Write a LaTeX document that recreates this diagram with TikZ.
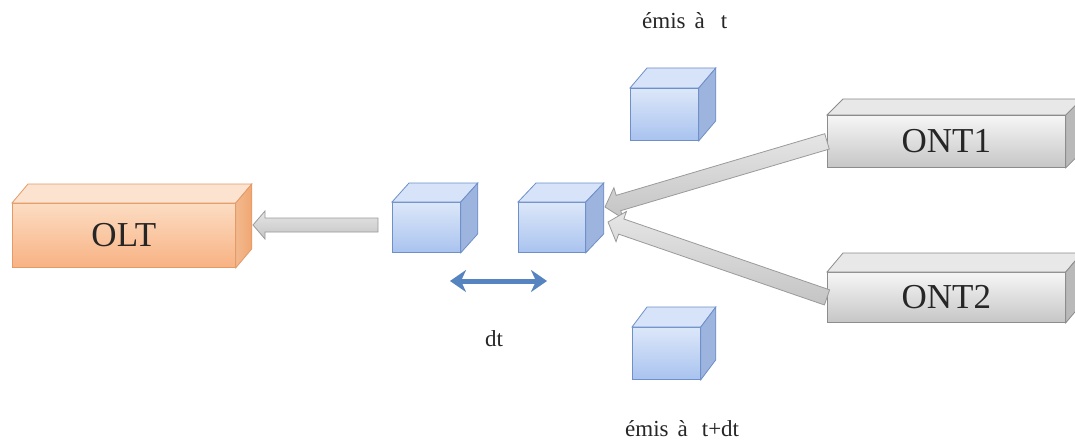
\documentclass[tikz,border=0pt]{standalone}
\usepackage{fontspec}
\setmainfont{Liberation Serif}
\usetikzlibrary{calc,arrows.meta}

\definecolor{oltBorder}{HTML}{E39A66}
\definecolor{oltTopA}{HTML}{FCE3CF}
\definecolor{oltFrontA}{HTML}{FCDCC2}
\definecolor{oltFrontB}{HTML}{F8B283}
\definecolor{oltSide}{HTML}{F0A772}
\definecolor{cubeBorder}{HTML}{6E8FC7}
\definecolor{cubeTop}{HTML}{D6E3F8}
\definecolor{cubeFrontA}{HTML}{DCE7F9}
\definecolor{cubeFrontB}{HTML}{A9C3EF}
\definecolor{cubeSide}{HTML}{9DB4DF}
\definecolor{ontBorder}{HTML}{8C8C8C}
\definecolor{ontTop}{HTML}{E8E8E8}
\definecolor{ontFrontA}{HTML}{F6F6F6}
\definecolor{ontFrontB}{HTML}{C6C6C6}
\definecolor{ontSide}{HTML}{B9B9B9}
\definecolor{flowBorder}{HTML}{9A9A9A}
\definecolor{flowA}{HTML}{E6E6E6}
\definecolor{flowB}{HTML}{C4C4C4}
\definecolor{gapBlue}{HTML}{5584C0}

\tikzset{
  oltfront/.style={draw=oltBorder, line width=0.8pt, top color=oltFrontA, bottom color=oltFrontB,
    font=\fontsize{35}{35}\selectfont, text=black!85, inner sep=0pt},
  olttop/.style={draw=oltBorder, line width=0.8pt, fill=oltTopA},
  oltside/.style={draw=oltBorder, line width=0.8pt, left color=oltSide!80!white, right color=oltSide},
  cubefront/.style={draw=cubeBorder, line width=0.8pt, top color=cubeFrontA, bottom color=cubeFrontB, inner sep=0pt},
  cubetop/.style={draw=cubeBorder, line width=0.8pt, fill=cubeTop},
  cubeside/.style={draw=cubeBorder, line width=0.8pt, fill=cubeSide},
  ontfront/.style={draw=ontBorder, line width=0.8pt, top color=ontFrontA, bottom color=ontFrontB,
    font=\fontsize{35}{35}\selectfont, text=black!85, inner sep=0pt},
  onttop/.style={draw=ontBorder, line width=0.8pt, fill=ontTop},
  ontside/.style={draw=ontBorder, line width=0.8pt, fill=ontSide},
  flow/.style={draw=flowBorder, line width=0.8pt, top color=flowA, bottom color=flowB},
  caption/.style={font=\fontsize{23}{23}\selectfont, text=black!85, anchor=base west, inner sep=0pt},
}

% 3D slab: name, x, y, width, height, depth x, depth y, style prefix, label
\newcommand\slab[9]{%
  \node[#8front, minimum width=#4, minimum height=#5, anchor=north west] (#1) at (#2,#3) {#9};
  \draw[#8top] (#1.north west) -- ++(#6,-#7) -- ($(#1.north east)+(#6,-#7)$) -- (#1.north east) -- cycle;
  \draw[#8side] (#1.north east) -- ++(#6,-#7) -- ($(#1.south east)+(#6,-#7)$) -- (#1.south east) -- cycle;
}

% flat block arrow from #2 (tail) to #3 (tip): shaft half width #4, head half width #5, head length #6
\newcommand\blockarrow[6][]{%
  \draw[flow,#1] (#3)
    -- ($($(#3)!#6!(#2)$)!#5!90:(#2)$)
    -- ($($(#3)!#6!(#2)$)!#4!90:(#2)$)
    -- ($(#2)!#4!-90:(#3)$)
    -- ($(#2)!#4!90:(#3)$)
    -- ($($(#3)!#6!(#2)$)!#4!-90:(#2)$)
    -- ($($(#3)!#6!(#2)$)!#5!-90:(#2)$)
    -- cycle;
}

\begin{document}
\begin{tikzpicture}[x=1pt,y=-1pt]
  \useasboundingbox (0,0) rectangle (1075,441);
  \clip (0,0) rectangle (1075,441);
  \fill[white] (0,0) rectangle (1075,441);

  % equipment
  \slab{olt}{12}{203}{223}{64}{16}{19}{olt}{OLT}
  \slab{ont1}{827}{115}{238}{52}{16}{16}{ont}{ONT1}
  \slab{ont2}{827}{272}{238}{50}{16}{19}{ont}{ONT2}

  % packets
  \slab{pkA}{392}{202}{68}{50}{17}{19}{cube}{}
  \slab{pkB}{518}{202}{67}{50}{18}{19}{cube}{}
  \slab{pkT}{630}{88}{68}{52}{17}{20}{cube}{}
  \slab{pkD}{632}{327}{68}{52}{15}{20}{cube}{}

  % upstream flows
  \coordinate (tipOlt) at (253,225);
  \coordinate (tailOlt) at (378,225);
  \blockarrow{tailOlt}{tipOlt}{7pt}{14pt}{12pt}
  \coordinate (tipOne) at (605,207);
  \coordinate (tipTwo) at (608,222);
  \blockarrow{ont1.west}{tipOne}{8pt}{16pt}{14pt}
  \blockarrow{ont2.west}{tipTwo}{8pt}{16pt}{14pt}

  % time gap between packets
  \coordinate (gapL) at (450,281);
  \coordinate (gapR) at (547,281);
  \draw[gapBlue, line width=5pt, {Stealth[length=16pt,width=22pt,inset=5pt]}-{Stealth[length=16pt,width=22pt,inset=5pt]}] (gapL) -- (gapR);

  % labels
  \node[caption] (lblT) at (642,29) {émis\hspace{9pt}à\hspace{16pt}t};
  \node[caption] (lblDt) at (485,346) {dt};
  \node[caption] (lblTdt) at (625,436) {émis\hspace{9pt}à\hspace{14pt}t+dt};
\end{tikzpicture}
\end{document}
